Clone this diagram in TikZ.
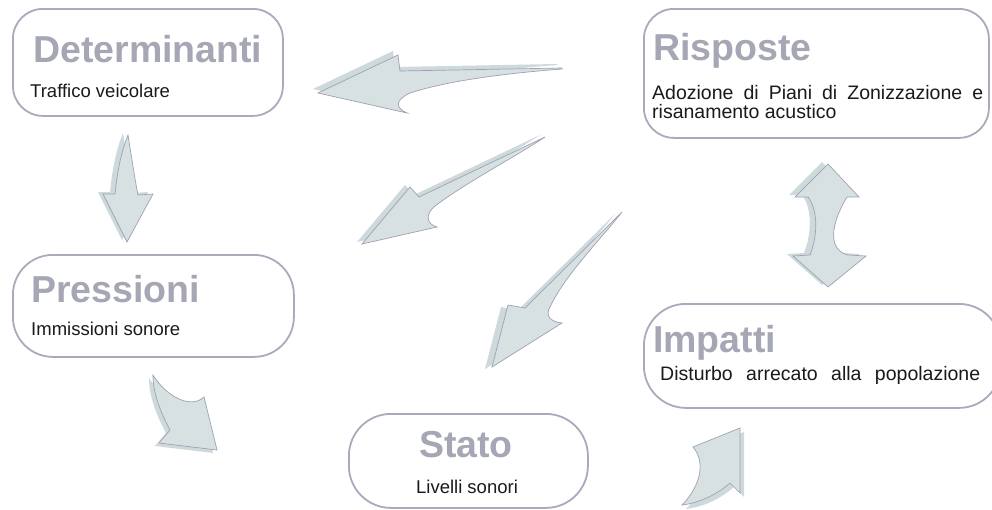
\documentclass[tikz,border=0pt]{standalone}
\usepackage{fontspec}
\setmainfont{Liberation Sans}
\definecolor{boxc}{HTML}{A9AABB}
\definecolor{titlec}{HTML}{A6A7B5}
\definecolor{subc}{HTML}{1A1A1A}
\definecolor{arrfill}{HTML}{D7E1E2}
\definecolor{arrshad}{HTML}{CDD9DA}
\definecolor{arrline}{HTML}{9FA1B4}
\tikzset{
  box/.style={draw=boxc, line width=1.8pt, fill=white, rectangle, inner sep=0pt, anchor=north west},
  ttl/.style={inner sep=0pt, anchor=base west, text=titlec, font=\fontsize{37.5}{40}\selectfont\bfseries},
  sub/.style={inner sep=0pt, anchor=base west, text=subc, font=\fontsize{18.5}{20}\selectfont},
  subw/.style={sub, font=\fontsize{19.5}{20}\selectfont},
  arrowbody/.style={fill=arrfill, draw=arrline, line width=0.7pt, line join=miter},
  arrowshadow/.style={fill=arrshad, draw=none}
}
\begin{document}
\begin{tikzpicture}[x=1pt,y=-1pt]
\useasboundingbox (0,0) rectangle (992,509);
\clip (0,0) rectangle (992,509);
\fill[white] (0,0) rectangle (992,509);

% boxes
\node[box, rounded corners=30pt, minimum width=270pt, minimum height=107pt] (det) at (12,8) {};
\node[box, rounded corners=30pt, minimum width=345pt, minimum height=129pt] (ris) at (643,8) {};
\node[box, rounded corners=40pt, minimum width=281pt, minimum height=102pt] (pre) at (12,254) {};
\node[box, rounded corners=42pt, minimum width=239pt, minimum height=94pt] (sta) at (348,413) {};
\node[box, rounded corners=42pt, minimum width=357pt, minimum height=104pt] (imp) at (643,303) {};

% titles
\node[ttl] (tdet) at (33,62) {Determinanti};
\node[ttl] (tris) at (653,60) {Risposte};
\node[ttl] (tpre) at (31,302) {Pressioni};
\node[ttl, anchor=base] (tsta) at (466,457) {Stato};
\node[ttl] (timp) at (653,352) {Impatti};

% subtitles
\node[sub] (sdet) at (30,97) {Traffico veicolare};
\node[subw] (sris1) at (652,99) {\makebox[331pt][s]{Adozione di Piani di Zonizzazione e}};
\node[subw] (sris2) at (652,118) {risanamento acustico};
\node[sub] (spre) at (31,335) {Immissioni sonore};
\node[sub, anchor=base] (ssta) at (467,493) {Livelli sonori};
\node[subw] (simp) at (660,380) {\makebox[320pt][s]{Disturbo arrecato alla popolazione}};

% arrow 1 (Risposte -> Determinanti)
\def\arrA{(562,68) -- (400,71) -- (398,55) -- (318,93) -- (407,113) .. controls (395,108) and (395,100) .. (410,93) .. controls (450,80) and (510,73) .. (562,69) -- cycle}
\fill[arrowshadow, shift={(-5,-4)}] \arrA;
\filldraw[arrowbody] \arrA;

% arrow 2 (Risposte -> Pressioni)
\def\arrB{(545,137) -- (419,197) -- (410,187) -- (362,244) -- (437,227) .. controls (426,224) and (425,214) .. (435,206) .. controls (470,180) and (510,160) .. (545,137) -- cycle}
\fill[arrowshadow, shift={(-5,-2)}] \arrB;
\filldraw[arrowbody] \arrB;

% arrow 3 (Risposte -> Stato)
\def\arrC{(622,212) -- (525,308) -- (508,305) -- (492,367) -- (562,323) .. controls (550,322) and (545,315) .. (550,307) .. controls (565,275) and (600,240) .. (622,212) -- cycle}
\fill[arrowshadow, shift={(-7,2)}] \arrC;
\filldraw[arrowbody] \arrC;

% arrow 4 (Determinanti -> Pressioni)
\def\arrD{(128,135) .. controls (132,160) and (135,180) .. (138,195) -- (153,194) -- (127,242) -- (103,194) -- (115,194) .. controls (117,175) and (120,155) .. (128,135) -- cycle}
\fill[arrowshadow, shift={(-5,-2)}] \arrD;
\filldraw[arrowbody] \arrD;

% arrow 5 (Risposte <-> Impatti)
\def\arrE{(828,164) -- (859,197) -- (847,197) .. controls (830,225) and (828,250) .. (848,255) -- (866,256) -- (828,287) -- (793,256) -- (810,255) .. controls (818,235) and (818,210) .. (808,197) -- (795,197) -- cycle}
\fill[arrowshadow, shift={(-6,-2)}] \arrE;
\filldraw[arrowbody] \arrE;

% arrow 6 (Pressioni -> Stato)
\def\arrF{(153,375) .. controls (165,395) and (190,410) .. (204,397) -- (217,450) -- (159,443) -- (170,430) .. controls (162,415) and (153,395) .. (153,375) -- cycle}
\fill[arrowshadow, shift={(-4,3)}] \arrF;
\filldraw[arrowbody] \arrF;

% arrow 7 (Stato -> Impatti)
\def\arrG{(740,428) -- (740,493) -- (730,483) .. controls (715,496) and (698,503) .. (682,505) .. controls (697,490) and (708,465) .. (693,447) -- cycle}
\fill[arrowshadow, shift={(4,4)}] \arrG;
\filldraw[arrowbody] \arrG;
\end{tikzpicture}
\end{document}
